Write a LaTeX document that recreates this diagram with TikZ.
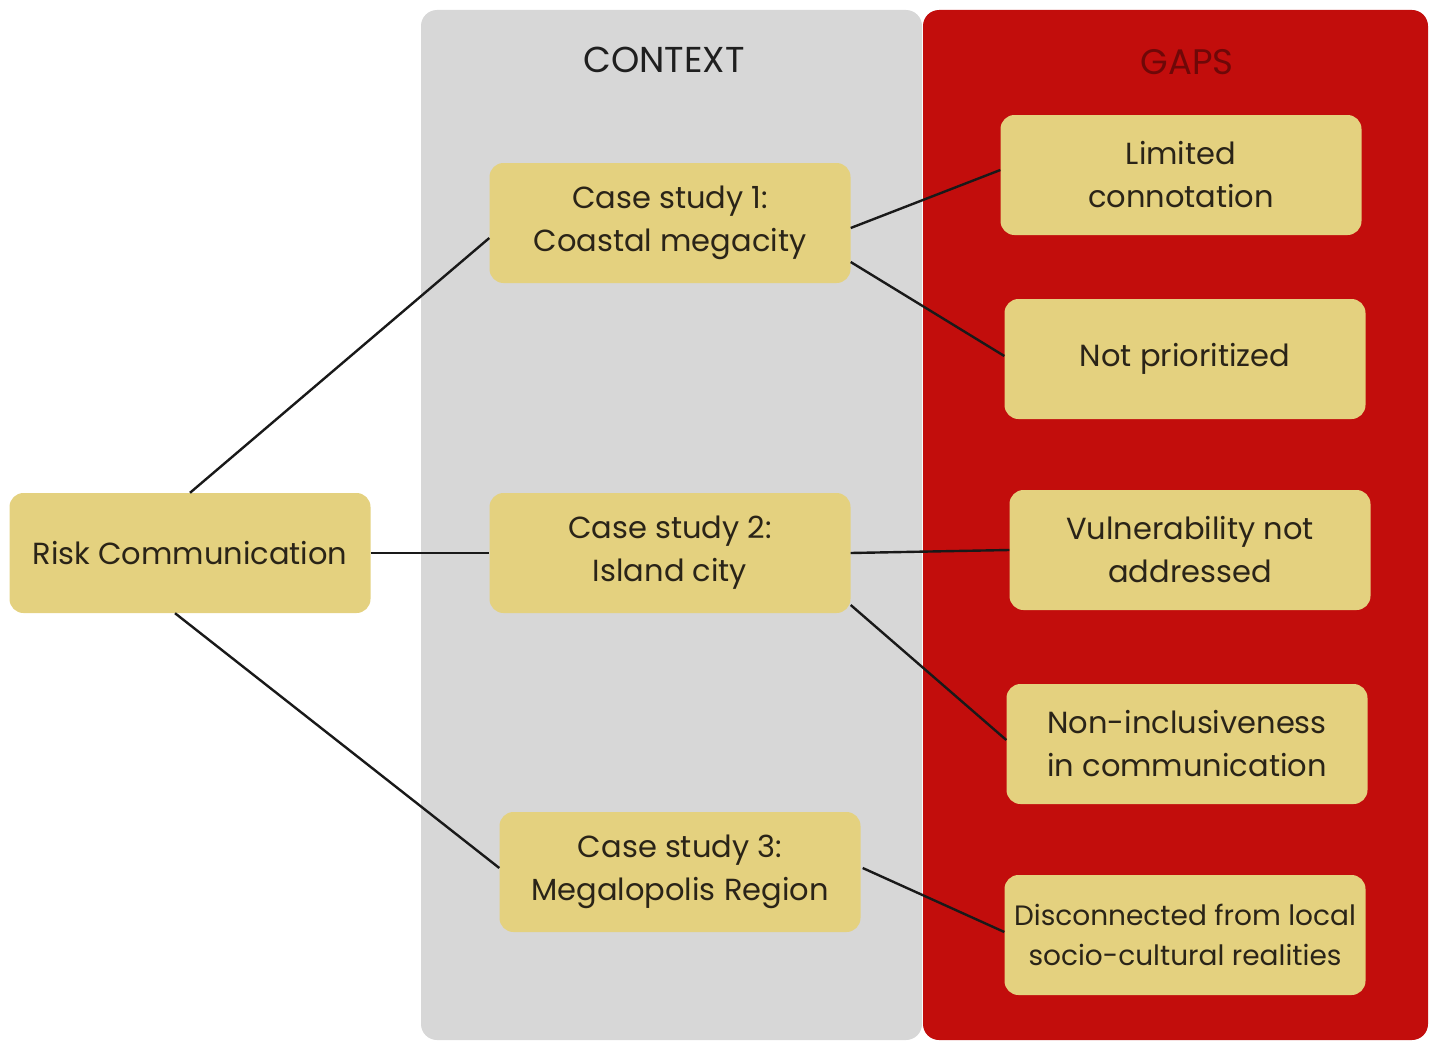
\documentclass[tikz,border=0pt]{standalone}
\usepackage{fontspec}
\setmainfont{Poppins}
\definecolor{boxfill}{HTML}{E4D17F}
\definecolor{panelgray}{HTML}{D7D7D7}
\definecolor{panelred}{HTML}{C20D0C}
\definecolor{gapstext}{HTML}{6E0808}
\definecolor{txt}{HTML}{2A2418}
\begin{document}
\begin{tikzpicture}[x=1pt,y=-1pt,
  item/.style={fill=boxfill, rounded corners=14pt, minimum width=361pt, minimum height=120pt,
    align=center, font=\fontsize{30.5}{43}\selectfont, text=txt, inner sep=0pt},
  link/.style={line width=2.4pt, black!90},
  panel/.style={rounded corners=16pt}]
\useasboundingbox (0,0) rectangle (1435,1041);
\fill[panel, panelgray] (421,10) rectangle (922,1040);
\fill[panel, panelred] (923,10) rectangle (1428,1040);
\node[font=\fontsize{36}{40}\selectfont, text=black!88] (ctx) at (664,60) {CONTEXT};
\node[font=\fontsize{35.5}{40}\selectfont, text=gapstext] (gaps) at (1187,62) {GAPS};

\node[item] (rc) at (190,553) {Risk Communication};
\node[item] (cs1) at (670,223) {Case study 1:\\Coastal megacity};
\node[item] (cs2) at (670,553) {Case study 2:\\Island city};
\node[item] (cs3) at (680,872) {Case study 3:\\Megalopolis Region};

\node[item] (lc) at (1181,175) {Limited\\connotation};
\node[item] (np) at (1185,359) {Not prioritized};
\node[item] (vn) at (1190,550) {Vulnerability not\\addressed};
\node[item] (ni) at (1187,744) {Non-inclusiveness\\in communication};
\node[item, font=\fontsize{28}{40}\selectfont] (dc) at (1185,935) {Disconnected from local\\socio-cultural realities};

\draw[link] (rc.north) -- ([yshift=-15]cs1.west);
\draw[link] (rc.east) -- (cs2.west);
\draw[link] ([xshift=-15]rc.south) -- ([yshift=4]cs3.west);
\draw[link] ([yshift=-5]cs1.east) -- ([yshift=5]lc.west);
\draw[link] ([yshift=-39]cs1.east) -- ([yshift=3]np.west);
\draw[link] (cs2.east) -- (vn.west);
\draw[link] ([yshift=-52]cs2.east) -- ([yshift=4]ni.west);
\draw[link] ([xshift=2,yshift=4]cs3.east) -- ([yshift=3]dc.west);
\end{tikzpicture}
\end{document}
